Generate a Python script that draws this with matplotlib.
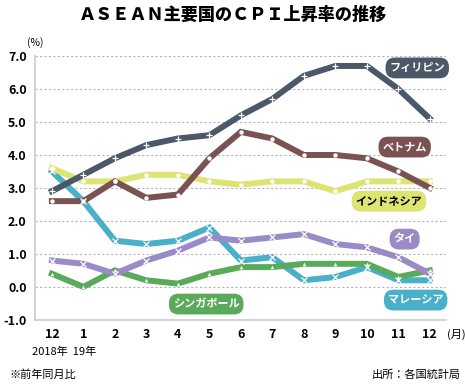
import matplotlib.pyplot as plt

plt.rcParams['font.family'] = ['Noto Sans CJK JP', 'DejaVu Sans']

months = ['12', '1', '2', '3', '4', '5', '6', '7', '8', '9', '10', '11', '12']
philippines = [2.9, 3.4, 3.9, 4.3, 4.5, 4.6, 5.2, 5.7, 6.4, 6.7, 6.7, 6.0, 5.1]
vietnam = [2.6, 2.6, 3.2, 2.7, 2.8, 3.9, 4.7, 4.5, 4.0, 4.0, 3.9, 3.5, 3.0]
indonesia = [3.6, 3.2, 3.2, 3.4, 3.4, 3.2, 3.1, 3.2, 3.2, 2.9, 3.2, 3.2, 3.2]
malaysia = [3.5, 2.6, 1.4, 1.3, 1.4, 1.8, 0.8, 0.9, 0.2, 0.3, 0.6, 0.2, 0.2]
thailand = [0.8, 0.7, 0.4, 0.8, 1.1, 1.5, 1.4, 1.5, 1.6, 1.3, 1.2, 0.9, 0.4]
singapore = [0.4, 0.0, 0.5, 0.2, 0.1, 0.4, 0.6, 0.6, 0.7, 0.7, 0.7, 0.3, 0.5]

x = list(range(len(months)))

fig = plt.figure(figsize=(4.65, 3.84), dpi=100)
ax = fig.add_axes([0.075, 0.167, 0.884, 0.687])

# bottom to top drawing order
series = [
    (malaysia, '#4aafc8', 'x', 'マレーシア', 11.55, -0.4, 'white'),
    (singapore, '#5aaa5c', '^', 'シンガポール', 4.9, -0.52, 'white'),
    (thailand, '#9a8bc6', 'x', 'タイ', 11.2, 1.45, 'white'),
    (indonesia, '#dde474', 'o', 'インドネシア', 10.7, 2.6, 'black'),
    (vietnam, '#795251', 'o', 'ベトナム', 11.2, 4.24, 'white'),
    (philippines, '#4a5868', '+', 'フィリピン', 11.6, 6.64, 'white'),
]

for vals, col, mk, name, lx, ly, tc in series:
    ax.plot(x, vals, color=col, lw=4.3, solid_joinstyle='miter', zorder=3)
    if mk == 'o':
        ax.plot(x, vals, ls='none', marker='o', ms=3.2, mfc='white', mec='none', zorder=4)
    elif mk == '^':
        ax.plot(x, vals, ls='none', marker='^', ms=2.6, mfc='white', mec='none', zorder=4)
    else:
        ax.plot(x, vals, ls='none', marker=mk, ms=4, mec='white', mew=0.9, zorder=4)
    ax.text(lx, ly, name, color=tc, fontsize=8, fontweight='bold', ha='center', va='center',
            zorder=5, bbox=dict(boxstyle='round,pad=0.35,rounding_size=0.85', fc=col, ec='none'))

ax.set_xlim(-0.54, 12.51)
ax.set_ylim(-1, 7)
ax.set_yticks([-1, 0, 1, 2, 3, 4, 5, 6, 7])
ax.set_yticklabels(['-1.0', '0.0', '1.0', '2.0', '3.0', '4.0', '5.0', '6.0', '7.0'])
ax.set_xticks(x)
ax.set_xticklabels(months)
ax.tick_params(length=0, labelsize=9, pad=6)
for lab in ax.get_xticklabels() + ax.get_yticklabels():
    lab.set_family(['Liberation Sans Narrow', 'Noto Sans CJK JP'])
    lab.set_fontweight('bold')

for yv in range(0, 8):
    ax.axhline(yv, color='#b5b5b5', lw=0.8, ls=(0, (2, 2)), zorder=1)

for s in ['top', 'right']:
    ax.spines[s].set_visible(False)
for s in ['left', 'bottom']:
    ax.spines[s].set_color('#cccccc')
    ax.spines[s].set_linewidth(1.2)

fig.text(0.5, 0.962, 'ＡＳＥＡＮ主要国のＣＰＩ上昇率の推移', ha='center', va='center',
         fontsize=12.3, fontweight='heavy')
fig.text(0.058, 0.888, '(%)', fontsize=7.5, ha='left', va='center')
fig.text(0.962, 0.13, '(月)', fontsize=8, ha='left', va='center')
fig.text(0.068, 0.083, '2018年  19年', fontsize=8, ha='left', va='center')
fig.text(0.02, 0.025, '※前年同月比', fontsize=8, ha='left', va='center')
fig.text(0.99, 0.025, '出所：各国統計局', fontsize=8, ha='right', va='center')

fig.savefig('out.png', dpi=100)
